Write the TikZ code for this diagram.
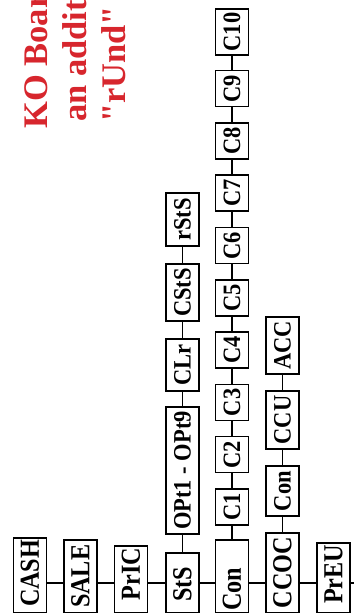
\documentclass[tikz,border=0pt]{standalone}
\usepackage{fontspec}
\setmainfont{Liberation Serif}[Ligatures=TeXOff]
\definecolor{kored}{RGB}{215,38,45}
\newcommand\chainsq[1]{\scalebox{0.88}[1]{#1}}
\newcommand\subsq[1]{\scalebox{0.9}[1]{#1}}
\newcommand\chaintext[3]{\makebox[#1pt][r]{\chainsq{#2}\hspace*{#3pt}}}
\begin{document}
\begin{tikzpicture}[x=1pt,y=1pt,
  bx/.style={draw, line width=1.5pt, fill=white, rotate=90, inner xsep=0pt, inner ysep=0pt, minimum height=33pt},
  chainbox/.style={bx, anchor=east, font=\fontsize{27.5}{30}\selectfont\bfseries},
  subbox/.style={bx, font=\fontsize{25}{28}\selectfont\bfseries},
  link/.style={line width=1.5pt},
  kotext/.style={rotate=90, anchor=base west, inner sep=0pt, text=kored, font=\fontsize{34.5}{38}\selectfont\bfseries}]
\useasboundingbox (0,0) rectangle (354,-613);
\clip (0,0) rectangle (354,-613);

% red note
\node[kotext] (t1) at (47,-129) {KO Board};
\node[kotext] (t2) at (86,-122) {an addition};
\node[kotext] (t3) at (125,-123) {"rUnd" is};

% main chain
\node[chainbox] (cash) at (30,-537) {\chaintext{75}{CASH}{2}};
\node[chainbox] (sale) at (80.5,-539) {\chaintext{73}{SALE}{5}};
\node[chainbox] (pric) at (131,-545) {\chaintext{67}{PrIC}{2}};
\node[chainbox] (sts) at (182.5,-552) {\chaintext{60}{StS}{14}};
\node[chainbox] (con) at (232,-539) {\chaintext{73}{Con}{28}};
\node[chainbox] (ccoc) at (282.5,-532) {\chaintext{80}{CCOC}{4}};
\node[chainbox] (preu) at (333.5,-542) {\chaintext{70}{PrEU}{2}};

% StS branch
\node[subbox, minimum width=127pt] (opt) at (182.5,-470.5) {\subsq{OPt1 - OPt9}};
\node[subbox, minimum width=52pt] (clr) at (182.5,-365) {\subsq{CLr}};
\node[subbox, minimum width=57pt] (csts) at (182.5,-292.5) {\subsq{CStS}};
\node[subbox, minimum width=53pt] (rsts) at (182.5,-219.5) {\subsq{rStS}};

% Con branch
\node[subbox, minimum width=36pt] (c1) at (232,-507) {\subsq{C1}};
\node[subbox, minimum width=36pt] (c2) at (232,-454.7) {\subsq{C2}};
\node[subbox, minimum width=36pt] (c3) at (232,-402.4) {\subsq{C3}};
\node[subbox, minimum width=36pt] (c4) at (232,-350.1) {\subsq{C4}};
\node[subbox, minimum width=36pt] (c5) at (232,-297.8) {\subsq{C5}};
\node[subbox, minimum width=36pt] (c6) at (232,-245.5) {\subsq{C6}};
\node[subbox, minimum width=36pt] (c7) at (232,-193.2) {\subsq{C7}};
\node[subbox, minimum width=36pt] (c8) at (232,-140.9) {\subsq{C8}};
\node[subbox, minimum width=36pt] (c9) at (232,-88.6) {\subsq{C9}};
\node[subbox, minimum width=46pt] (c10) at (232,-32) {\subsq{C10}};

% CCOC branch
\node[subbox, minimum width=50pt] (con2) at (282.5,-491) {\subsq{Con}};
\node[subbox, minimum width=58pt] (ccu) at (282.5,-420) {\subsq{CCU}};
\node[subbox, minimum width=57pt] (acc) at (282.5,-345.5) {\subsq{ACC}};

% connectors
\coordinate (trunk) at (0,-583);
\coordinate (edge) at (354,-583);
\draw[link] (cash.south |- trunk) -- (sale.north |- trunk);
\draw[link] (sale.south |- trunk) -- (pric.north |- trunk);
\draw[link] (pric.south |- trunk) -- (sts.north |- trunk);
\draw[link] (sts.south |- trunk) -- (con.north |- trunk);
\draw[link] (con.south |- trunk) -- (ccoc.north |- trunk);
\draw[link] (ccoc.south |- trunk) -- (preu.north |- trunk);
\draw[link] (preu.south |- trunk) -- (edge);

\draw[link] (sts.east) -- (opt.west);
\draw[link] (opt.east) -- (clr.west);
\draw[link] (clr.east) -- (csts.west);
\draw[link] (csts.east) -- (rsts.west);

\draw[link] (con.east) -- (c1.west);
\draw[link] (c1.east) -- (c2.west);
\draw[link] (c2.east) -- (c3.west);
\draw[link] (c3.east) -- (c4.west);
\draw[link] (c4.east) -- (c5.west);
\draw[link] (c5.east) -- (c6.west);
\draw[link] (c6.east) -- (c7.west);
\draw[link] (c7.east) -- (c8.west);
\draw[link] (c8.east) -- (c9.west);
\draw[link] (c9.east) -- (c10.west);

\draw[link] (ccoc.east) -- (con2.west);
\draw[link] (con2.east) -- (ccu.west);
\draw[link] (ccu.east) -- (acc.west);
\end{tikzpicture}
\end{document}
